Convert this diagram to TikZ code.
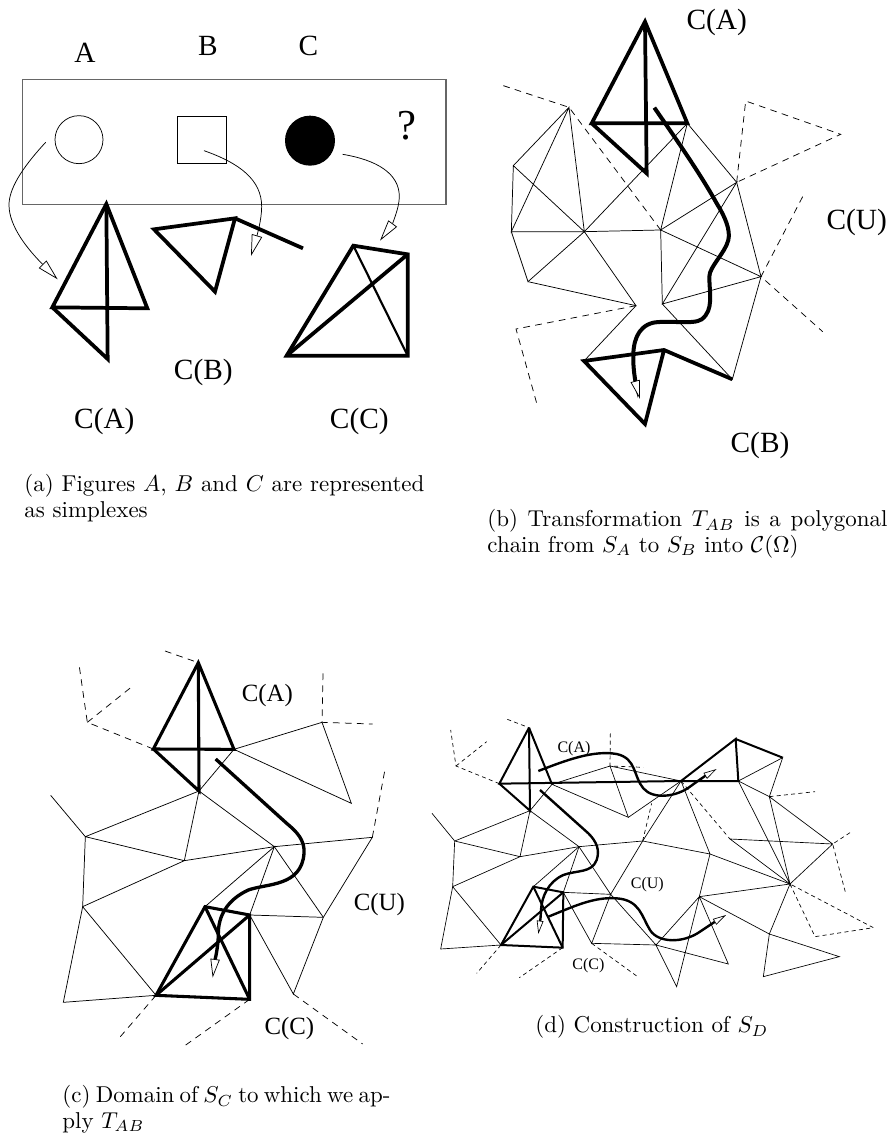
\documentclass[tikz,border=0pt]{standalone}
\usepackage{amsmath,amssymb}
\usepackage{fontspec}
\usepackage{tikz}
\usetikzlibrary{arrows.meta}
\newfontfamily\labelfamily{Liberation Serif}
\definecolor{frameGray}{HTML}{666666}
\tikzset{
  fig thin/.style={draw=black, line width=0.55pt},
  fig dash/.style={fig thin, dash pattern=on 5pt off 4pt},
  fig simplex/.style={draw=black, line width=2.8pt, miter limit=10},
  fig label/.style={font=\labelfamily\fontsize{22}{24}\selectfont, inner sep=0pt},
  fig caption/.style={font=\fontsize{10}{11.1}\selectfont, anchor=north west,
    align=justify, inner sep=0pt, scale=1.72, transform shape},
  fig arrow/.style={fig thin,
    -{Triangle[fill=white, line width=0.55pt, length=16pt, width=8pt]}},
  fig path/.style={draw=black, line width=3pt,
    -{Triangle[fill=white, line width=0.55pt, length=14pt, width=7pt]}}
}
\begin{document}
\begin{tikzpicture}[x=0.75pt,y=-0.75pt]
\useasboundingbox (0,0) rectangle (891,1141);
% panel a
\begin{scope}[scale=1/3]
\draw[draw=frameGray, line width=0.8pt] (68,239) rectangle (1338,613);
\draw[fig thin] (237,419) circle (72);
\draw[fig thin] (533,348) rectangle (680,490);
\fill[black] (930,422) circle (75);
\node[fig label] (aA) at (255,158) {A};
\node[fig label] (aB) at (624,138) {B};
\node[fig label] (aC) at (925,138) {C};
\node[fig label,font=\labelfamily\fontsize{32}{34}\selectfont] (aQ) at (1220,378) {?};
\draw[fig arrow] (137,427) .. controls (60,510) and (27,570) .. (27,615) .. controls (27,680) and (85,750) .. (173,838);
\draw[fig arrow] (612,452) .. controls (720,490) and (785,540) .. (785,620) .. controls (785,660) and (770,710) .. (753,768);
\draw[fig arrow] (1028,463) .. controls (1130,480) and (1198,520) .. (1198,590) .. controls (1198,625) and (1175,675) .. (1140,722);
\draw[fig simplex] (319,612) -- (157,922) -- (442,925) -- cycle;
\draw[fig simplex] (319,612) -- (323,1077) -- (157,922);
\draw[fig simplex] (462,688) -- (705,655) -- (645,875) -- cycle;
\draw[fig simplex] (705,655) -- (909,745);
\draw[fig simplex] (860,1067) -- (1060,737) -- (1223,763) -- (1223,1067) -- cycle;
\draw[fig simplex] (860,1067) -- (1223,763);
\draw[fig simplex,line width=1.6pt] (1060,737) -- (1223,1067);
\node[fig label] (aCB) at (610,1117) {C(B)};
\node[fig label] (aCA) at (313,1265) {C(A)};
\node[fig label] (aCC) at (1078,1265) {C(C)};
\end{scope}
% panel b
\begin{scope}[shift={(460,0)},scale=1/3]
\coordinate (bT) at (555,65);
\coordinate (bL) at (395,370);
\coordinate (bR) at (682,370);
\coordinate (bD) at (560,520);
\coordinate (b1) at (327,322);
\coordinate (b2) at (160,497);
\coordinate (b3) at (154,695);
\coordinate (b4) at (373,695);
\coordinate (b5) at (204,845);
\coordinate (b6) at (528,917);
\coordinate (b7) at (602,690);
\coordinate (b8) at (607,912);
\coordinate (b9) at (830,547);
\coordinate (b10) at (903,830);
\coordinate (b11) at (817,1138);
\coordinate (b12) at (372,1083);
\coordinate (b13) at (612,1050);
\draw[fig thin] (b1) -- (b2) -- (b3) -- (b1) -- (b4) -- (b2);
\draw[fig thin] (b3) -- (b4) -- (b5) -- (b3);
\draw[fig thin] (b5) -- (b6) -- (b4) -- (b7) -- (b8);
\draw[fig thin] (b6) -- (b12);
\draw[fig thin] (b4) -- (bR) -- (b7) -- (b9) -- (b8) -- (b10) -- (b7);
\draw[fig thin] (bR) -- (b9) -- (b10) -- (b11) -- (b8);
\draw[fig dash] (130,257) -- (b1) -- (b7);
\draw[fig dash] (b6) -- (168,987) -- (231,1213);
\draw[fig dash] (b9) -- (857,303) -- (1142,403) -- (b9);
\draw[fig dash] (1028,590) -- (b10) -- (1088,995);
\draw[fig simplex] (bT) -- (bL) -- (bR) -- cycle;
\draw[fig simplex] (bT) -- (bD) -- (bL);
\draw[fig simplex] (b11) -- (b13) -- (b12) -- (555,1272) -- (b13);
\draw[fig path] (583,323) .. controls (650,420) and (720,520) .. (770,610) .. controls (795,650) and (812,690) .. (805,720) .. controls (795,760) and (748,800) .. (748,830) .. controls (748,880) and (762,930) .. (725,958) .. controls (700,975) and (630,960) .. (580,968) .. controls (530,980) and (518,1030) .. (520,1080) .. controls (520,1120) and (530,1160) .. (540,1197);
\node[fig label] (bCA) at (770,68) {C(A)};
\node[fig label] (bCU) at (1190,667) {C(U)};
\node[fig label] (bCB) at (900,1335) {C(B)};
\end{scope}
% panel c
\begin{scope}[shift={(0,640)},scale=1/3,fig simplex/.append style={line width=2.3pt},
  fig path/.append style={line width=2.5pt},
  fig label/.append style={font=\labelfamily\fontsize{18.6}{20}\selectfont}]
\coordinate (cT) at (595,68);
\coordinate (cL) at (460,327);
\coordinate (cR) at (702,328);
\coordinate (cD) at (597,453);
\coordinate (c1) at (256,590);
\coordinate (c2) at (553,662);
\coordinate (c3) at (823,620);
\coordinate (c4) at (1117,592);
\coordinate (c5) at (248,800);
\coordinate (c6) at (190,1087);
\coordinate (c7) at (468,1066);
\coordinate (c8) at (749,1078);
\coordinate (c9) at (749,825);
\coordinate (c10) at (615,800);
\coordinate (c11) at (970,832);
\coordinate (c12) at (880,1062);
\coordinate (c13) at (966,247);
\coordinate (c14) at (262,247);
\draw[fig thin] (cD) -- (cR) -- (c13) -- (1054,490) -- (cR);
\draw[fig thin] (152,466) -- (c1) -- (cD) -- (c2) -- (c1) -- (c5) -- (c6) -- (c7) -- (c5) -- (c2) -- (c3) -- (cD);
\draw[fig thin] (c3) -- (c4) -- (c11) -- (c9) -- (c3) -- (c10);
\draw[fig thin] (c3) -- (c11) -- (c12) -- (c9);
\draw[fig dash] (495,33) -- (cT);
\draw[fig dash] (cL) -- (c14) -- (238,80);
\draw[fig dash] (c14) -- (402,135);
\draw[fig dash] (969,100) -- (c13) -- (1118,252);
\draw[fig dash] (c4) -- (1155,388);
\draw[fig dash] (c7) -- (355,1197);
\draw[fig dash] (c8) -- (553,1218);
\draw[fig dash] (c12) -- (1088,1212);
\draw[fig simplex] (cT) -- (cL) -- (cR) -- cycle;
\draw[fig simplex] (cT) -- (cD) -- (cL);
\draw[fig simplex] (c7) -- (c10) -- (c9) -- (c8) -- cycle;
\draw[fig simplex] (c7) -- (c9);
\draw[fig simplex] (c10) -- (c8);
\draw[fig path] (647,357) -- (860,550) .. controls (890,575) and (915,600) .. (912,640) .. controls (905,740) and (800,730) .. (745,750) .. controls (680,780) and (655,830) .. (655,880) .. controls (655,920) and (645,960) .. (638,1013);
\node[fig label] (cCA) at (802,168) {C(A)};
\node[fig label] (cCU) at (1138,795) {C(U)};
\node[fig label] (cCC) at (868,1165) {C(C)};
\end{scope}
% panel d
\begin{scope}[shift={(420,680)},scale=1/3,fig thin/.append style={line width=0.5pt},
  fig dash/.append style={dash pattern=on 3pt off 2.5pt},
  fig simplex/.append style={line width=1.5pt},
  fig path/.append style={line width=1.8pt,
    -{Triangle[fill=white, line width=0.5pt, length=10pt, width=5pt]}},
  fig label/.append style={font=\labelfamily\fontsize{12}{14}\selectfont}]
\coordinate (dT) at (327,143);
\coordinate (dL) at (238,311);
\coordinate (dR) at (396,313);
\coordinate (dD) at (330,392);
\coordinate (d1) at (104,483);
\coordinate (d2) at (300,530);
\coordinate (d3) at (477,500);
\coordinate (d4) at (668,483);
\coordinate (d5) at (870,522);
\coordinate (d6) at (1110,612);
\coordinate (d7) at (98,620);
\coordinate (d8) at (62,807);
\coordinate (d9) at (243,795);
\coordinate (d10) at (428,803);
\coordinate (d11) at (430,637);
\coordinate (d12) at (340,620);
\coordinate (d13) at (572,643);
\coordinate (d14) at (515,790);
\coordinate (d15) at (708,795);
\coordinate (d16) at (838,650);
\coordinate (d17) at (770,920);
\coordinate (d18) at (925,852);
\coordinate (d19) at (1048,762);
\coordinate (d20) at (1258,830);
\coordinate (d21) at (1030,890);
\coordinate (d22) at (570,258);
\coordinate (d23) at (625,412);
\coordinate (d24) at (783,303);
\coordinate (d25) at (955,303);
\coordinate (d26) at (947,177);
\coordinate (d27) at (1088,233);
\coordinate (d28) at (1048,350);
\coordinate (d29) at (1238,492);
\coordinate (d30) at (930,477);
\coordinate (d31) at (108,258);
\draw[fig thin] (dD) -- (dR) -- (d22) -- (d23) -- (dR);
\draw[fig thin] (d22) -- (d24) -- (d23);
\draw[fig thin] (36,400) -- (d1) -- (dD) -- (d2) -- (d1) -- (d7) -- (d8) -- (d9) -- (d7) -- (d2) -- (d3) -- (dD);
\draw[fig thin] (d3) -- (d4) -- (d5) -- (d6) -- (d16) -- (d5) -- (d24) -- (d4) -- (d13) -- (d14) -- (d11) -- (d13) -- (d3) -- (d11);
\draw[fig thin] (d3) -- (d12);
\draw[fig thin] (d14) -- (d15) -- (d13);
\draw[fig thin] (d15) -- (d17) -- (d16) -- (d18) -- (d15) -- (d16);
\draw[fig thin] (d16) -- (d19) -- (d6);
\draw[fig thin] (d19) -- (d20) -- (d21) -- (d19);
\draw[fig thin] (d25) -- (d27) -- (d28) -- (d25) -- (d6) -- (d28) -- (d29) -- (d6) -- (d30) -- (d29);
\draw[fig dash] (262,118) -- (dT);
\draw[fig dash] (dL) -- (d31) -- (92,150);
\draw[fig dash] (d31) -- (200,185);
\draw[fig dash] (571,160) -- (d22) -- (670,262);
\draw[fig dash] (d4) -- (695,370);
\draw[fig dash] (d24) -- (d30);
\draw[fig dash] (d28) -- (1185,335);
\draw[fig dash] (1290,458) -- (d29) -- (1277,640);
\draw[fig dash] (d6) -- (1185,770) -- (1360,743) -- (d6);
\draw[fig dash] (d9) -- (170,880);
\draw[fig dash] (d10) -- (298,893);
\draw[fig dash] (d14) -- (650,888);
\draw[fig simplex] (dT) -- (dL) -- (d24) -- (d25) -- (d26) -- (d24);
\draw[fig simplex] (d26) -- (d27);
\draw[fig simplex] (dT) -- (dR);
\draw[fig simplex] (dT) -- (dD) -- (dL);
\draw[fig simplex] (d9) -- (d12) -- (d11) -- (d10) -- cycle;
\draw[fig simplex] (d9) -- (d11);
\draw[fig simplex] (d12) -- (d10);
\draw[fig path] (355,273) .. controls (440,240) and (520,210) .. (590,222) .. controls (650,235) and (640,290) .. (670,325) .. controls (700,360) and (770,350) .. (810,320) .. controls (830,305) and (860,285) .. (890,267);
\draw[fig path] (360,330) -- (505,460) .. controls (530,485) and (540,510) .. (530,540) .. controls (515,580) and (470,570) .. (430,585) .. controls (385,605) and (365,650) .. (363,690) .. controls (362,720) and (358,740) .. (355,762);
\draw[fig path] (385,710) .. controls (460,680) and (520,650) .. (590,655) .. controls (660,660) and (665,710) .. (690,750) .. controls (715,790) and (790,790) .. (840,755) .. controls (865,738) and (890,722) .. (918,705);
\node[fig label] (dCA) at (462,207) {C(A)};
\node[fig label] (dCU) at (682,615) {C(U)};
\node[fig label] (dCC) at (505,858) {C(C)};
\end{scope}
% captions
\node[fig caption,text width=174.4pt] (capA) at (24,474) {(a) Figures $A$, $B$ and $C$ are represented\linebreak as simplexes};
\node[fig caption,text width=174.4pt] (capB) at (487,509) {(b) Transformation $T_{AB}$ is a polygonal\linebreak chain from $S_A$ to $S_B$ into $\mathcal{C}(\Omega)$};
\node[fig caption,text width=143pt] (capC) at (62,1085) {(c) Domain of $S_C$ to which we ap-\linebreak ply $T_{AB}$};
\node[fig caption,align=left] (capD) at (535,1015) {(d) Construction of $S_D$};
\end{tikzpicture}
\end{document}
